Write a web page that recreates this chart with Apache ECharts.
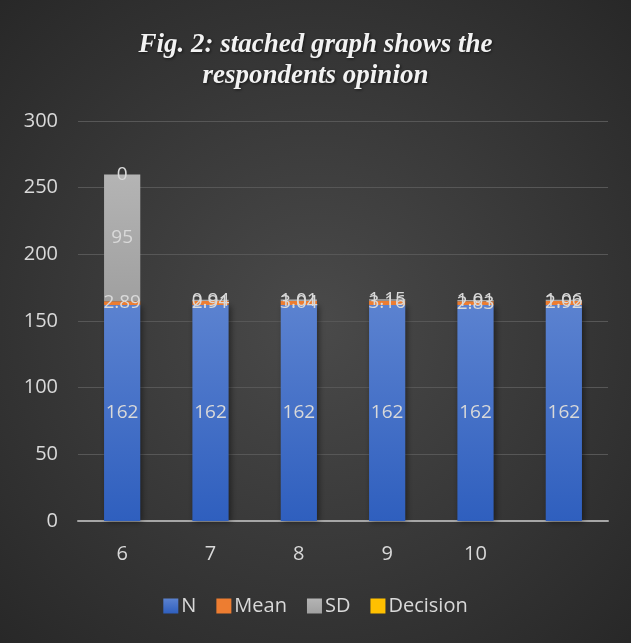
<!DOCTYPE html>
<html>
<head>
<meta charset="utf-8">
<script src="https://cdn.jsdelivr.net/npm/echarts@6/dist/echarts.min.js"></script>
<style>
	html, body { margin: 0; padding: 0; background: #2b2b2b; }
	#chart { width: 631px; height: 643px; }
</style>
</head>
<body>
<div id="chart"></div>
<script>
// data
var categories = ['6', '7', '8', '9', '10', ''];
var nValues = [162, 162, 162, 162, 162, 162];
var meanValues = [2.89, 2.91, 3.04, 3.16, 2.83, 2.92];
var sdValues = [95, 0.94, 1.01, 1.15, 1.01, 1.06];
var decisionValues = [0, null, null, null, null, null];
var yTicks = { min: 0, max: 300, interval: 50 };

var labelColor = '#d9d9d9';
var sansFont = '"Open Sans", "Noto Sans", sans-serif';

function barLabel() {
	return {
		show: true,
		position: 'inside',
		color: labelColor,
		fontSize: 19,
		fontFamily: sansFont,
		formatter: function (p) {
			return p.value == null ? '' : String(p.value);
		}
	};
}

var myChart = echarts.init(document.getElementById('chart'));
var option = {
	backgroundColor: {
		type: 'radial',
		x: 0.5, y: 0.5, r: 0.75,
		colorStops: [
			{ offset: 0, color: '#4a4a4a' },
			{ offset: 1, color: '#262626' }
		]
	},
	title: {
		text: 'Fig. 2: stached graph shows the\nrespondents opinion',
		left: 'center',
		top: 25,
		textStyle: {
			color: '#f2f2f2',
			fontFamily: '"Liberation Serif", "DejaVu Serif", serif',
			fontStyle: 'italic',
			fontWeight: 'bold',
			fontSize: 27,
			lineHeight: 31,
			textShadowColor: 'rgba(0,0,0,0.6)',
			textShadowBlur: 3,
			textShadowOffsetX: 1,
			textShadowOffsetY: 1
		}
	},
	legend: {
		bottom: 22,
		left: 'center',
		itemWidth: 15,
		itemHeight: 15,
		itemGap: 20,
		icon: 'rect',
		textStyle: {
			color: labelColor,
			fontSize: 20,
			fontFamily: sansFont,
			padding: [0, 0, 0, -2]
		},
		data: ['N', 'Mean', 'SD', 'Decision']
	},
	grid: {
		left: 78,
		right: 23,
		top: 121,
		bottom: 122
	},
	xAxis: {
		type: 'category',
		data: categories,
		axisLine: { lineStyle: { color: '#a6a6a6', width: 2 } },
		axisTick: { show: false },
		axisLabel: {
			color: labelColor,
			fontSize: 20,
			fontFamily: sansFont,
			margin: 23
		}
	},
	yAxis: {
		type: 'value',
		min: yTicks.min,
		max: yTicks.max,
		interval: yTicks.interval,
		axisLine: { show: false },
		axisTick: { show: false },
		axisLabel: {
			color: labelColor,
			fontSize: 20,
			fontFamily: sansFont,
			margin: 20
		},
		splitLine: { lineStyle: { color: '#575757', width: 1 } }
	},
	series: [{
		name: 'N',
		type: 'bar',
		stack: 'total',
		barWidth: '41%',
		data: nValues,
		label: barLabel(),
		itemStyle: {
			color: {
				type: 'linear', x: 0, y: 0, x2: 0, y2: 1,
				colorStops: [
					{ offset: 0, color: '#5b82d0' },
					{ offset: 1, color: '#2f5fbe' }
				]
			},
			shadowColor: 'rgba(0,0,0,0.45)',
			shadowBlur: 6,
			shadowOffsetX: 2,
			shadowOffsetY: 1
		}
	}, {
		name: 'Mean',
		type: 'bar',
		stack: 'total',
		data: meanValues,
		label: barLabel(),
		itemStyle: { color: '#ed7d31' }
	}, {
		name: 'SD',
		type: 'bar',
		stack: 'total',
		data: sdValues,
		label: barLabel(),
		itemStyle: {
			color: {
				type: 'linear', x: 0, y: 0, x2: 0, y2: 1,
				colorStops: [
					{ offset: 0, color: '#b4b4b4' },
					{ offset: 1, color: '#a0a0a0' }
				]
			}
		}
	}, {
		name: 'Decision',
		type: 'bar',
		stack: 'total',
		data: decisionValues,
		label: barLabel(),
		itemStyle: { color: '#ffc000' }
	}]
};
myChart.setOption(option);
</script>
</body>
</html>
